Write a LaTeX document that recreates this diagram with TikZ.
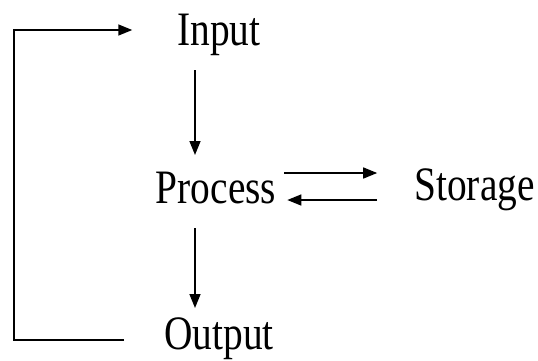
\documentclass[tikz,border=0pt]{standalone}
\usepackage{fontspec}
\newfontfamily\flowfont[FakeStretch=0.82]{Liberation Serif}
\usetikzlibrary{arrows.meta}

\begin{document}
\begin{tikzpicture}[x=1pt, y=-1pt,
    stage/.style={inner sep=0pt, anchor=base, font=\flowfont\fontsize{48}{50}\selectfont},
    flow/.style={line width=1.5pt, -{Triangle[length=14pt, width=11pt]}}]

                  \useasboundingbox (0,0) rectangle (538,360);

                  \node[stage] (in) at (219,45) {Input};
                  \node[stage] (proc) at (216,203) {Process};
                  \node[stage] (stor) at (474.5,200) {Storage};
                  \node[stage] (out) at (219,349) {Output};

                  \draw[flow] ([xshift=-24pt, yshift=-25pt]in.base) -- ([xshift=-21pt, yshift=48pt]proc.base);
                  \draw[flow] ([xshift=-21pt, yshift=-25pt]proc.base) -- ([xshift=-24pt, yshift=41pt]out.base);
                  \draw[flow] ([xshift=8pt, yshift=30pt]proc.base east) -- ([xshift=-37pt, yshift=27pt]stor.base west);
                  \draw[flow] ([xshift=-37pt]stor.base west) -- ([xshift=11pt, yshift=3pt]proc.base east);
                  \draw[flow] ([xshift=-40pt, yshift=9pt]out.base west) -| (14,30) -- ([xshift=-45pt, yshift=15pt]in.base west);

            \end{tikzpicture}
\end{document}
